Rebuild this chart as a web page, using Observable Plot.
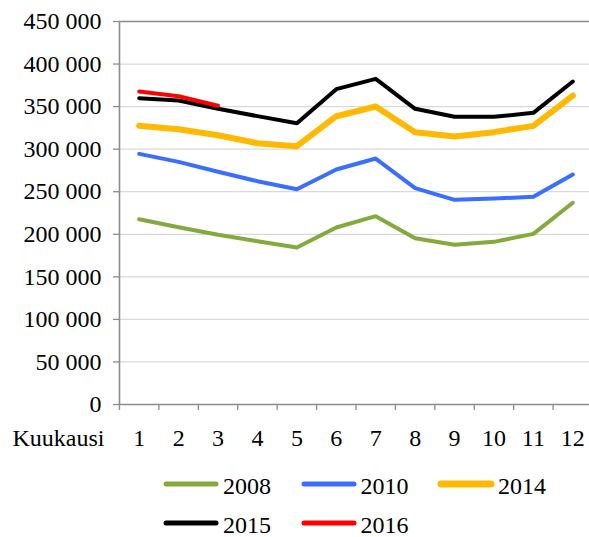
<!DOCTYPE html>
<html><head><meta charset="utf-8">
<script src="https://cdn.jsdelivr.net/npm/d3@7"></script>
<script src="https://cdn.jsdelivr.net/npm/@observablehq/plot@0.6"></script>
<style>
body{margin:0;background:#fff;font-family:"Liberation Serif","Times New Roman",serif;}
#chart svg, #chart svg text{font-family:"Liberation Serif","Times New Roman",serif !important;}
#legend{position:relative;width:589px;height:75px;}
.sw{position:absolute;}
.lab{position:absolute;font-size:24px;line-height:24px;color:#000;white-space:nowrap;}
</style></head><body><div id="chart"></div><div id="legend"></div>
<script>
const months = [1,2,3,4,5,6,7,8,9,10,11,12];
const years = ["2008","2010","2014","2015","2016"];
const s2008 = [217700,208300,199400,191900,184500,208000,221300,195400,187600,191100,200500,237000];
const s2010 = [294500,285100,273400,262400,253000,276100,289000,254200,240500,242000,244000,270200];
const s2014 = [327400,323500,316400,307000,303500,338700,350100,320000,314900,320000,327400,363000];
const s2015 = [359900,357200,347400,338800,330500,370500,382600,347400,338000,338000,342700,379500];
const s2016 = [367800,362200,351000];
const yTicks = [0,50000,100000,150000,200000,250000,300000,350000,400000,450000];
const xLabel = "Kuukausi";

const seriesValues = [s2008,s2010,s2014,s2015,s2016];
const colors = ["#84A93C","#3A6EFF","#FFB900","#000000","#FF0000"];
const widths = [4,4,6,4,4];
const serif = "'Liberation Serif', 'Times New Roman', serif";

const fi = d3.formatLocale({decimal:",",thousands:"\u00a0",grouping:[3],currency:["","€"]});
const fmt = fi.format(",d");

const rows = [];
years.forEach((y,k)=>seriesValues[k].forEach((v,i)=>rows.push({year:y,month:months[i],value:v})));
const xBounds = [months[0]-0.5, ...months.map(m=>m+0.5)];

const lineMarks = years.map((y,k)=>Plot.line(rows.filter(r=>r.year===y),{
  x:"month", y:"value", stroke:colors[k], strokeWidth:widths[k],
  strokeLinecap:"round", strokeLinejoin:"round"
}));

const chart = Plot.plot({
  width:589, height:462,
  marginTop:21, marginBottom:58, marginLeft:119, marginRight:0,
  style:"font-family:" + serif + ";font-size:24px;background:#fff;color:#000;overflow:visible;",
  x:{domain:[0.5,12.5], range:[119,592]},
  y:{domain:[0,450000]},
  marks:[
    Plot.ruleY(yTicks.slice(1,-1),{stroke:"#d9d9d9",strokeWidth:1.3}),
    Plot.ruleY([yTicks[yTicks.length-1]],{stroke:"#8c8c8c",strokeWidth:1.6}),
    Plot.axisY({ticks:yTicks, tickSize:6, tickPadding:12, tickFormat:fmt, stroke:"#8c8c8c", strokeWidth:1.3, fontSize:24, fontFamily:serif, label:null}),
    Plot.axisX({ticks:xBounds, tickSize:6, tickFormat:()=>"", stroke:"#8c8c8c", strokeWidth:1.3, label:null}),
    Plot.axisX({ticks:months, tickSize:0, tickPadding:24, fontSize:24, fontFamily:serif, label:null}),
    Plot.ruleX([0.5],{stroke:"#8c8c8c",strokeWidth:1.6}),
    Plot.ruleY([0],{stroke:"#8c8c8c",strokeWidth:1.6}),
    ...lineMarks,
    Plot.text([xLabel],{text:d=>d, frameAnchor:"bottom-left", textAnchor:"end", lineAnchor:"top", dx:-15, dy:24, fontSize:24, fontFamily:serif})
  ]
});
document.getElementById("chart").appendChild(chart);

const legend = document.getElementById("legend");
years.forEach((y,k)=>{
  const col = k%3, row = Math.floor(k/3);
  const left = 162 + col*137.5, cy = 22 + row*39;
  const ns = "http://www.w3.org/2000/svg";
  const s = document.createElementNS(ns,"svg");
  s.setAttribute("width",58); s.setAttribute("height",12);
  s.setAttribute("class","sw");
  s.style.left = left+"px"; s.style.top = (cy-6)+"px";
  const l = document.createElementNS(ns,"line");
  l.setAttribute("x1",4); l.setAttribute("x2",54); l.setAttribute("y1",6); l.setAttribute("y2",6);
  l.setAttribute("stroke",colors[k]); l.setAttribute("stroke-width",widths[k]+1);
  l.setAttribute("stroke-linecap","round");
  s.appendChild(l); legend.appendChild(s);
  const t = document.createElement("div");
  t.className="lab"; t.textContent=y;
  t.style.left=(left+61)+"px"; t.style.top=(cy-10)+"px";
  legend.appendChild(t);
});
</script></body></html>
